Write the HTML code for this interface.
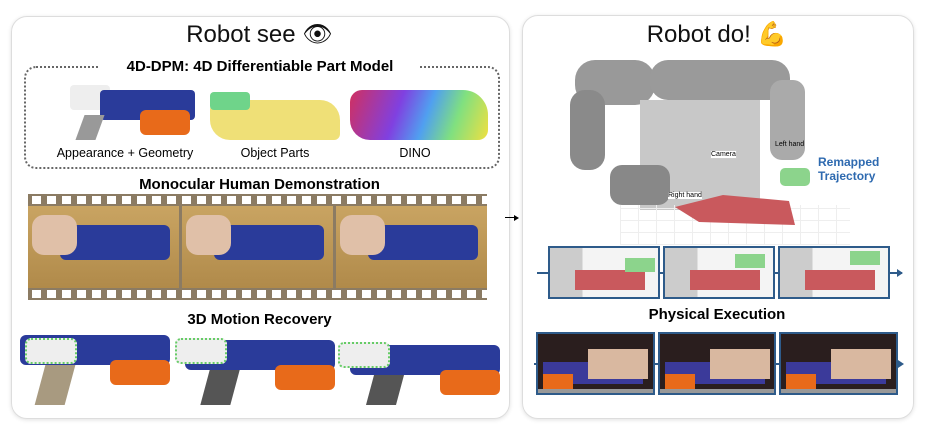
<!DOCTYPE html>
<html><head><meta charset="utf-8"><style>
body{margin:0;width:927px;height:426px;background:#fff;position:relative;overflow:hidden;font-family:"Liberation Sans",sans-serif}
.a{position:absolute}
.panel{position:absolute;border:1.5px solid #ddd;border-radius:16px;box-shadow:0 1px 4px rgba(0,0,0,.12)}
.t{position:absolute;text-align:center;white-space:nowrap}
.b{font-weight:bold}
.fr{position:absolute;border:2px solid #2e5b8a;box-sizing:border-box;overflow:hidden}
</style></head><body>
<div class="panel" style="left:11px;top:16px;width:497px;height:401px"></div>
<div class="panel" style="left:522px;top:15px;width:390px;height:402px"></div>
<div class="t" style="left:11px;width:497px;top:20px;font-size:24px;color:#111">Robot see 👁</div>
<div class="t" style="left:522px;width:390px;top:20px;font-size:24px;color:#111">Robot do! 💪</div>
<div class="a" style="left:24px;top:66px;width:472px;height:99px;border:2px dotted #666;border-radius:12px"></div>
<div class="t b" style="left:100px;width:320px;top:58px;font-size:15px;background:#fff">4D-DPM: 4D Differentiable Part Model</div>
<!-- gun -->
<div class="a" style="left:70px;top:85px;width:40px;height:25px;background:#eee;border-radius:4px"></div>
<div class="a" style="left:100px;top:90px;width:95px;height:30px;background:#2a3b9a;border-radius:4px"></div>
<div class="a" style="left:140px;top:110px;width:50px;height:25px;background:#e86a1a;border-radius:6px"></div>
<div class="a" style="left:80px;top:115px;width:20px;height:25px;background:#999;transform:skewX(-20deg)"></div>
<div class="a" style="left:210px;top:100px;width:130px;height:40px;background:#efe077;border-radius:10px 20px 6px 20px"></div>
<div class="a" style="left:210px;top:92px;width:40px;height:18px;background:#6fd48a;border-radius:4px"></div>
<div class="a" style="left:350px;top:90px;width:138px;height:50px;border-radius:12px 25px 10px 20px;background:linear-gradient(110deg,#d03060,#8040e0 35%,#50a0f0 55%,#80e080 75%,#f0e040)"></div>
<div class="t" style="left:50px;width:150px;top:146px;font-size:12.5px">Appearance + Geometry</div>
<div class="t" style="left:225px;width:100px;top:146px;font-size:12.5px">Object Parts</div>
<div class="t" style="left:385px;width:60px;top:146px;font-size:12.5px">DINO</div>
<div class="t b" style="left:11px;width:497px;top:176px;font-size:15px">Monocular Human Demonstration</div>
<!-- film -->
<div class="a" style="left:28px;top:194px;width:459px;height:106px;background:repeating-linear-gradient(90deg,#8b7b63 0 4px,#fff 4px 13px,#8b7b63 13px 15px)"></div>
<div class="a" style="left:28px;top:194px;width:459px;height:106px;border-top:2px solid #8b7b63;border-bottom:2px solid #8b7b63;box-sizing:border-box"></div>
<div class="a" style="left:28px;top:204px;width:459px;height:86px;background:#8b7b63"></div>
<div class="a" style="left:28px;top:206px;width:151px;height:82px;background:linear-gradient(180deg,#c9a462,#b08a4a)"></div>
<div class="a" style="left:182px;top:206px;width:151px;height:82px;background:linear-gradient(180deg,#c9a462,#b08a4a)"></div>
<div class="a" style="left:336px;top:206px;width:151px;height:82px;background:linear-gradient(180deg,#c9a462,#b08a4a)"></div>
<div class="a" style="left:60px;top:225px;width:110px;height:35px;background:#2a3b9a;border-radius:6px"></div>
<div class="a" style="left:214px;top:225px;width:110px;height:35px;background:#2a3b9a;border-radius:6px"></div>
<div class="a" style="left:368px;top:225px;width:110px;height:35px;background:#2a3b9a;border-radius:6px"></div>
<div class="a" style="left:32px;top:215px;width:45px;height:40px;background:#e0c0a8;border-radius:12px"></div>
<div class="a" style="left:186px;top:215px;width:45px;height:40px;background:#e0c0a8;border-radius:12px"></div>
<div class="a" style="left:340px;top:215px;width:45px;height:40px;background:#e0c0a8;border-radius:12px"></div>
<div class="t b" style="left:11px;width:497px;top:311px;font-size:15px">3D Motion Recovery</div>
<div class="a" style="left:20px;top:335px;width:150px;height:30px;background:#2a3b9a;border-radius:6px"></div>
<div class="a" style="left:185px;top:340px;width:150px;height:30px;background:#2a3b9a;border-radius:6px"></div>
<div class="a" style="left:350px;top:345px;width:150px;height:30px;background:#2a3b9a;border-radius:6px"></div>
<div class="a" style="left:25px;top:338px;width:48px;height:22px;background:#eee;border:2px dotted #6c6;border-radius:6px"></div>
<div class="a" style="left:175px;top:338px;width:48px;height:22px;background:#eee;border:2px dotted #6c6;border-radius:6px"></div>
<div class="a" style="left:338px;top:342px;width:48px;height:22px;background:#eee;border:2px dotted #6c6;border-radius:6px"></div>
<div class="a" style="left:40px;top:365px;width:30px;height:40px;background:#a89a80;transform:skewX(-15deg)"></div>
<div class="a" style="left:205px;top:370px;width:30px;height:35px;background:#555;transform:skewX(-15deg)"></div>
<div class="a" style="left:370px;top:375px;width:30px;height:30px;background:#555;transform:skewX(-15deg)"></div>
<div class="a" style="left:110px;top:360px;width:60px;height:25px;background:#e86a1a;border-radius:6px"></div>
<div class="a" style="left:275px;top:365px;width:60px;height:25px;background:#e86a1a;border-radius:6px"></div>
<div class="a" style="left:440px;top:370px;width:60px;height:25px;background:#e86a1a;border-radius:6px"></div>
<div class="a" style="left:505px;top:217px;width:10px;height:1px;background:#000"></div>
<div class="a" style="left:514px;top:215px;border-left:5px solid #000;border-top:3px solid transparent;border-bottom:3px solid transparent"></div>
<!-- robot -->
<div class="a" style="left:575px;top:60px;width:80px;height:45px;background:#999;border-radius:20px"></div>
<div class="a" style="left:570px;top:90px;width:35px;height:80px;background:#8a8a8a;border-radius:15px"></div>
<div class="a" style="left:650px;top:60px;width:140px;height:40px;background:#9a9a9a;border-radius:18px"></div>
<div class="a" style="left:640px;top:100px;width:120px;height:110px;background:#c8c8c8"></div>
<div class="a" style="left:770px;top:80px;width:35px;height:80px;background:#aaa;border-radius:12px"></div>
<div class="a" style="left:610px;top:165px;width:60px;height:40px;background:#888;border-radius:12px"></div>
<div class="a" style="left:620px;top:205px;width:230px;height:40px;background:repeating-linear-gradient(90deg,#eee 0 1px,transparent 1px 18px),repeating-linear-gradient(0deg,#eee 0 1px,transparent 1px 12px)"></div>
<div class="a" style="left:675px;top:195px;width:120px;height:30px;background:#c9595d;clip-path:polygon(0 40%,40% 0,95% 20%,100% 100%,20% 90%)"></div>
<div class="a" style="left:780px;top:168px;width:30px;height:18px;background:#8cd48c;border-radius:5px"></div>
<div class="t" style="left:818px;top:155px;font-size:12px;color:#2e6ab0;font-weight:bold;line-height:14px;text-align:left">Remapped<br>Trajectory</div>
<div class="t" style="left:710px;top:150px;font-size:7px;background:#fff;border:1px solid #ccc">Camera</div>
<div class="t" style="left:775px;top:141px;font-size:7px">Left hand</div>
<div class="t" style="left:668px;top:192px;font-size:7px;background:#fff">Right hand</div>
<!-- sim frames -->
<div class="a" style="left:537px;top:272px;width:365px;height:1.5px;background:#2e5b8a"></div>
<div class="a" style="left:897px;top:269px;border-left:6px solid #2e5b8a;border-top:4px solid transparent;border-bottom:4px solid transparent"></div>
<div class="fr" style="left:548px;top:246px;width:112px;height:53px;background:linear-gradient(90deg,#ccc 30%,#f4f4f4 30%)"><div class="a" style="left:25px;top:22px;width:70px;height:20px;background:#c9595d"></div><div class="a" style="left:75px;top:10px;width:30px;height:14px;background:#8cd48c"></div></div>
<div class="fr" style="left:663px;top:246px;width:112px;height:53px;background:linear-gradient(90deg,#ccc 30%,#f4f4f4 30%)"><div class="a" style="left:25px;top:22px;width:70px;height:20px;background:#c9595d"></div><div class="a" style="left:70px;top:6px;width:30px;height:14px;background:#8cd48c"></div></div>
<div class="fr" style="left:778px;top:246px;width:112px;height:53px;background:linear-gradient(90deg,#ccc 30%,#f4f4f4 30%)"><div class="a" style="left:25px;top:22px;width:70px;height:20px;background:#c9595d"></div><div class="a" style="left:70px;top:3px;width:30px;height:14px;background:#8cd48c"></div></div>
<div class="t b" style="left:522px;width:390px;top:306px;font-size:15px">Physical Execution</div>
<div class="a" style="left:534px;top:363px;width:368px;height:1.5px;background:#2e5b8a"></div>
<div class="a" style="left:898px;top:360px;border-left:6px solid #2e5b8a;border-top:4px solid transparent;border-bottom:4px solid transparent"></div>
<div class="fr" style="left:536px;top:332px;width:119px;height:63px;background:#2a1e1e"><div class="a" style="left:5px;top:28px;width:100px;height:22px;background:#3b3a9a"></div><div class="a" style="left:5px;top:40px;width:30px;height:18px;background:#e86a1a"></div><div class="a" style="left:50px;top:15px;width:60px;height:30px;background:#d9b8a0"></div><div class="a" style="left:0;top:55px;width:119px;height:8px;background:#999"></div></div>
<div class="fr" style="left:658px;top:332px;width:118px;height:63px;background:#2a1e1e"><div class="a" style="left:5px;top:28px;width:100px;height:22px;background:#3b3a9a"></div><div class="a" style="left:5px;top:40px;width:30px;height:18px;background:#e86a1a"></div><div class="a" style="left:50px;top:15px;width:60px;height:30px;background:#d9b8a0"></div><div class="a" style="left:0;top:55px;width:118px;height:8px;background:#999"></div></div>
<div class="fr" style="left:779px;top:332px;width:119px;height:63px;background:#2a1e1e"><div class="a" style="left:5px;top:28px;width:100px;height:22px;background:#3b3a9a"></div><div class="a" style="left:5px;top:40px;width:30px;height:18px;background:#e86a1a"></div><div class="a" style="left:50px;top:15px;width:60px;height:30px;background:#d9b8a0"></div><div class="a" style="left:0;top:55px;width:119px;height:8px;background:#999"></div></div>
</body></html>
